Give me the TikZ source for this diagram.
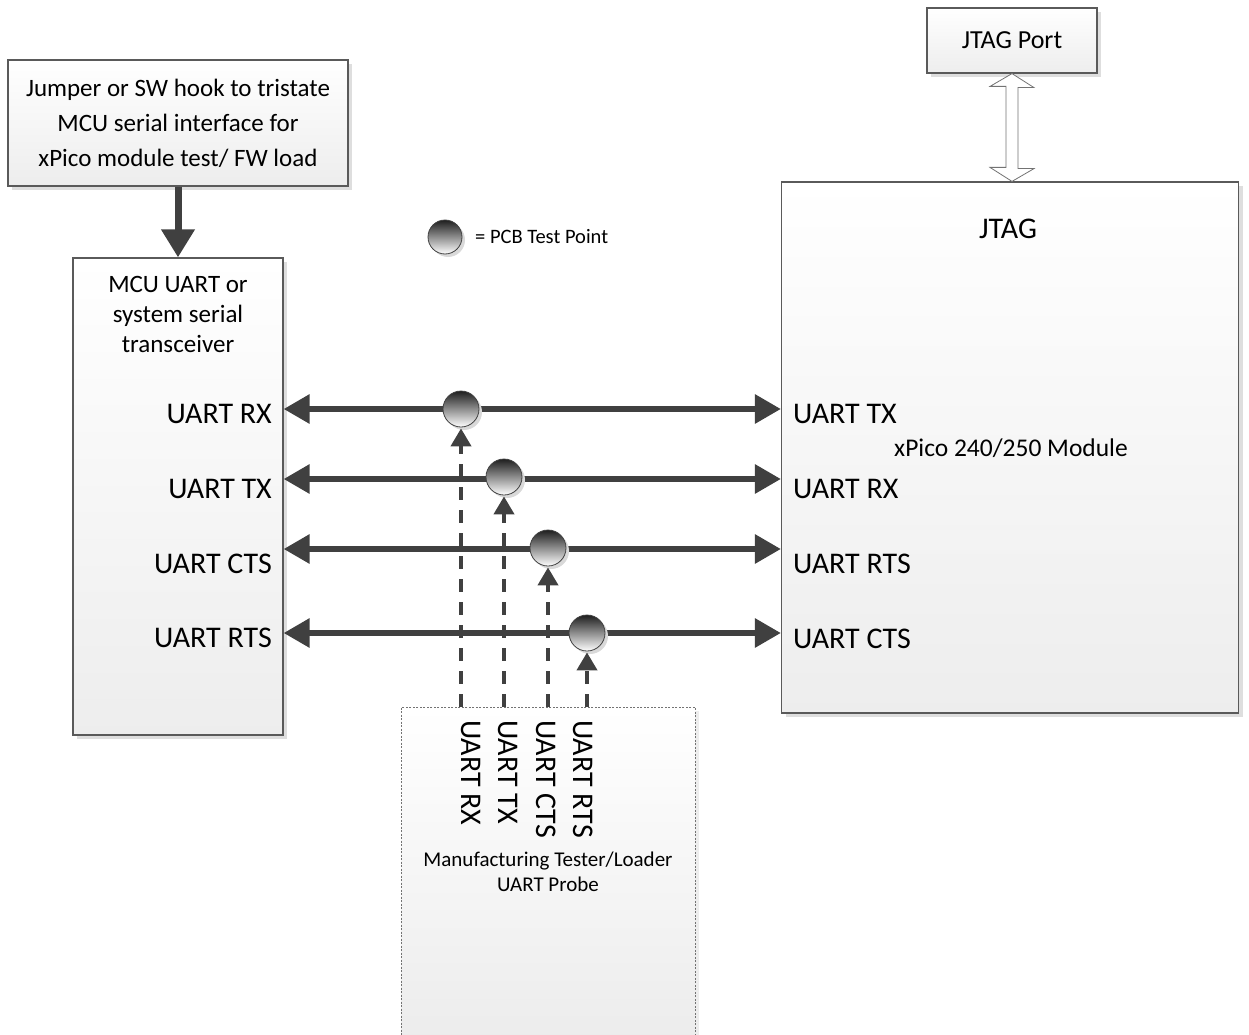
\documentclass[tikz,border=0pt]{standalone}
\usepackage{fontspec}
\setmainfont{Carlito}
\usetikzlibrary{arrows.meta,shadows,calc}
\definecolor{ln}{HTML}{404040}
\definecolor{bd}{HTML}{5A5A5A}
\begin{document}
\begin{tikzpicture}[x=1pt,y=-1pt,
  box/.style={rectangle, draw=bd, line width=1.2pt, top color=white, bottom color=black!7, inner sep=0pt,
    drop shadow={shadow xshift=4pt, shadow yshift=-4pt, fill=black!13, opacity=1}},
  probebox/.style={rectangle, draw=black!55, line width=0.9pt, dash pattern=on 2pt off 1.5pt,
    top color=white, bottom color=black!8, inner sep=0pt,
    drop shadow={shadow xshift=4pt, shadow yshift=-4pt, fill=black!7, opacity=1}},
  tp/.style={circle, minimum size=36pt, inner sep=0pt, draw=black!75, line width=0.8pt,
    top color=black!88, bottom color=white,
    drop shadow={shadow xshift=3pt, shadow yshift=-3pt, fill=black!15, opacity=1}},
  bus/.style={draw=ln, line width=6pt, {Triangle[length=26pt,width=28pt]}-{Triangle[length=26pt,width=28pt]}},
  dsh/.style={draw=ln, line width=4pt, dash pattern=on 13pt off 10pt, -{Triangle[length=18pt,width=20pt]}, shorten >=1pt},
  fat/.style={draw=ln, line width=7pt, -{Triangle[length=28pt,width=32pt]}},
  dbl/.style={draw=black!55, line width=0.8pt, fill=white},
  lab/.style={font=\fontsize{30}{36}\selectfont, inner sep=0pt},
  vlab/.style={font=\fontsize{30}{36}\selectfont, inner sep=0pt, rotate=-90, anchor=west},
  txt/.style={font=\fontsize{25}{30}\selectfont, inner sep=0pt, align=center}
]
\useasboundingbox (0,0) rectangle (1249,1035);
\clip (0,0) rectangle (1249,1035);

% boxes
\node[box, minimum width=340pt, minimum height=126pt, font=\fontsize{25}{35}\selectfont, align=center]
  (jmp) at (178,123) {Jumper or SW hook to tristate\\MCU serial interface for\\xPico module test/ FW load};
\node[box, minimum width=170pt, minimum height=65pt, font=\fontsize{26}{31}\selectfont]
  (jp) at (1012,40.5) {JTAG Port};
\node[box, minimum width=210pt, minimum height=477pt] (mcu) at (178,496.5) {};
\node[box, minimum width=457pt, minimum height=531pt] (xp) at (1010,447.5) {};
\node[probebox, minimum width=294pt, minimum height=360pt] (pb) at (548,887) {};

% texts in boxes
\node[txt, font=\fontsize{25}{30}\selectfont] (mcut) at (178,314) {MCU UART or\\system serial\\transceiver};
\node[lab] (jtag) at (1008,229) {JTAG};
\node[txt, font=\fontsize{25.5}{30}\selectfont] (xpt) at (1011,448) {xPico 240/250 Module};
\node[txt, font=\fontsize{21}{25}\selectfont] (pbt) at (548,871.5) {Manufacturing Tester/Loader\\UART Probe};

% jumper arrow
\draw[fat] (jmp.south) -- (mcu.north);

% JTAG double arrow
\draw[dbl] (jp.south) -- ++(22,14) -- ++(-16,0) -- ++(0,81) -- ++(16,0) -- (xp.north -| jp.south)
  -- ++(-22,-14) -- ++(16,0) -- ++(0,-81) -- ++(-16,0) -- cycle;

% rows
\coordinate (r1) at (0,409);
\coordinate (r2) at (0,479);
\coordinate (r3) at (0,549);
\coordinate (r4) at (0,633);
\draw[bus] (mcu.east |- r1) -- (xp.west |- r1);
\draw[bus] (mcu.east |- r2) -- (xp.west |- r2);
\draw[bus] (mcu.east |- r3) -- (xp.west |- r3);
\draw[bus] (mcu.east |- r4) -- (xp.west |- r4);

% left labels
\node[lab, anchor=east] (l1) at (272,414) {UART RX};
\node[lab, anchor=east] (l2) at (272,489) {UART TX};
\node[lab, anchor=east] (l3) at (272,564) {UART CTS};
\node[lab, anchor=east] (l4) at (272,638) {UART RTS};
% right labels
\node[lab, anchor=west] (q1) at (793,414) {UART TX};
\node[lab, anchor=west] (q2) at (793,489) {UART RX};
\node[lab, anchor=west] (q3) at (793,564) {UART RTS};
\node[lab, anchor=west] (q4) at (793,639) {UART CTS};

% test points
\node[tp] (tp1) at (461,409) {};
\node[tp] (tp2) at (504,477) {};
\node[tp] (tp3) at (548,548) {};
\node[tp] (tp4) at (587,633) {};

% probe dashed arrows
\draw[dsh] (pb.north -| tp1) -- (tp1.south);
\draw[dsh] (pb.north -| tp2) -- (tp2.south);
\draw[dsh] (pb.north -| tp3) -- (tp3.south);
\draw[dsh] (pb.north -| tp4) -- (tp4.south);

% vertical labels
\node[vlab] (v1) at (471,720) {UART RX};
\node[vlab] (v2) at (508,720) {UART TX};
\node[vlab] (v3) at (546,720) {UART CTS};
\node[vlab] (v4) at (583,720) {UART RTS};

% legend
\node[tp, minimum size=34pt] (leg) at (445,237) {};
\node[inner sep=0pt, anchor=west, font=\fontsize{20.5}{24}\selectfont] (legt) at (475,237) {= PCB Test Point};
\end{tikzpicture}
\end{document}
